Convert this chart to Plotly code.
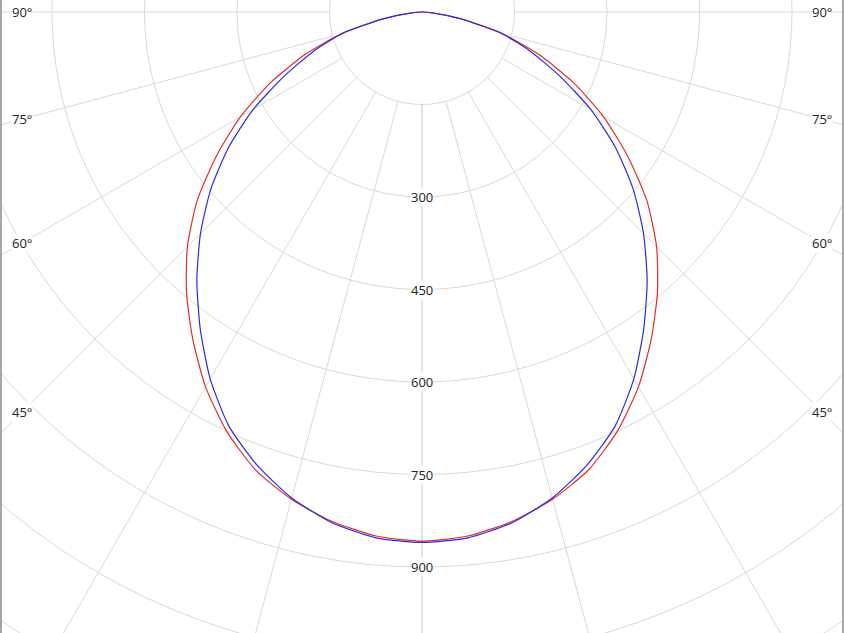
import numpy as np
import plotly.graph_objects as go

# photometric curve, intensity (cd) vs angle from nadir, symmetric both sides
angles = [0, 5, 10, 15, 20, 25, 30, 35, 40, 45, 50, 55, 60, 65, 70, 75, 80, 85, 90]
red_cd = [858, 853, 839, 818, 790, 750, 702, 648, 594, 538, 476, 407, 340, 271, 202, 134, 65, 18, 0]
blue_cd = [860, 856, 841, 816, 782, 741, 687, 627, 568, 508, 447, 383, 316, 247, 188, 133, 64, 17, 0]

grid_radii = [150, 300, 450, 600, 750, 900, 1050, 1200, 1350]
radial_labels = [300, 450, 600, 750, 900, 1050, 1200]
spoke_angles = [0, 15, 30, 45, 60, 75, 90, 105, 120, 135, 150, 165, 180]
angle_labels = [45, 60, 75, 90]

W, H = 844, 633
cx, cy = 422, 12          # pixel position of the pole
scale = 92.5 / 150        # px per cd
label_x = 400 / scale     # where the angle labels sit horizontally

def to_xy(ang, val):
    # mirror to both sides, 0 deg pointing down
    a = np.radians(np.array(ang, dtype=float))
    v = np.array(val, dtype=float)
    a_full = np.concatenate([-a[::-1], a[1:]])
    v_full = np.concatenate([v[::-1], v[1:]])
    return v_full * np.sin(a_full), -v_full * np.cos(a_full)

fig = go.Figure()

grid = dict(color="#d9d9d9", width=1)
for r in grid_radii:
    fig.add_shape(type="circle", xref="x", yref="y", x0=-r, y0=-r, x1=r, y1=r,
                  line=grid, layer="below")
for s in spoke_angles:
    for side in (-1, 1):
        t = np.radians(s)
        fig.add_shape(type="line", xref="x", yref="y",
                      x0=side * 150 * np.sin(t), y0=-150 * np.cos(t),
                      x1=side * 2000 * np.sin(t), y1=-2000 * np.cos(t),
                      line=grid, layer="below")

xr, yr = to_xy(angles, red_cd)
fig.add_trace(go.Scatter(x=xr, y=yr, mode="lines",
                         line=dict(color="#e42b2b", width=1.2, shape="spline", smoothing=0.6),
                         name="C0-C180", hoverinfo="skip"))
xb, yb = to_xy(angles, blue_cd)
fig.add_trace(go.Scatter(x=xb, y=yb, mode="lines",
                         line=dict(color="#2a2ae4", width=1.2, shape="spline", smoothing=0.6),
                         name="C90-C270", hoverinfo="skip"))

lab_font = dict(family="Open Sans, DejaVu Sans, sans-serif", size=13, color="#222222")
for r in radial_labels:
    fig.add_annotation(x=0, y=-r, text=str(r), showarrow=False, font=lab_font,
                       bgcolor="white", borderpad=0)
for a in angle_labels:
    yy = -label_x / np.tan(np.radians(a)) if a < 90 else 0
    for side in (-1, 1):
        fig.add_annotation(x=side * label_x, y=yy, text=f"{a}°", showarrow=False,
                           font=lab_font, bgcolor="white", borderpad=0)

# grey frame edges left/right
for xp in (0.0012, 0.9988):
    fig.add_shape(type="line", xref="paper", yref="paper", x0=xp, x1=xp, y0=0, y1=1,
                  line=dict(color="#a6a6a6", width=2))

fig.update_layout(
    width=W, height=H,
    margin=dict(l=0, r=0, t=0, b=0),
    paper_bgcolor="white", plot_bgcolor="white",
    showlegend=False,
    xaxis=dict(range=[-cx / scale, (W - cx) / scale], visible=False, fixedrange=True),
    yaxis=dict(range=[-(H - cy) / scale, cy / scale], visible=False, fixedrange=True),
)

fig.write_html("out.html", config={"displayModeBar": False},
               post_script="document.body.style.margin='0';document.body.style.overflow='hidden';")
